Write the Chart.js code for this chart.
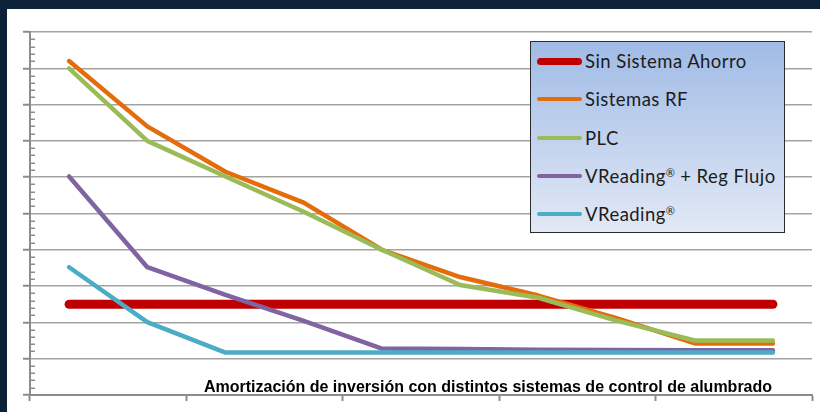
<!DOCTYPE html>
<html><head><meta charset="utf-8">
<script src="https://cdn.jsdelivr.net/npm/chart.js@4.4.0/dist/chart.umd.min.js"></script>
<style>
html,body{margin:0;padding:0;background:#0b2238;}
#wrap{position:relative;width:820px;height:412px;overflow:hidden;background:#0b2238;}
#panel{position:absolute;left:7px;top:9px;width:813px;height:403px;background:#fff;}
#c{position:absolute;left:0;top:0;}
#legend{position:absolute;left:530px;top:41px;width:253px;height:190px;border:1.5px solid #2b2b2b;background:linear-gradient(#a0bbe6,#e2e9f6);font-family:Lato,"Open Sans",sans-serif;font-size:18.5px;letter-spacing:0.45px;color:#1c1c1c;}
.item{position:absolute;left:0;height:26px;display:flex;align-items:center;white-space:nowrap;}
.sw{width:45px;margin-left:6px;margin-right:3px;border-radius:4px;flex:none;}
.reg{font-size:11px;position:relative;top:-6px;letter-spacing:0;}
#title{position:absolute;left:188px;top:378px;width:600px;text-align:center;font-family:"Liberation Sans",Arial,sans-serif;font-weight:bold;font-size:16px;color:#000;white-space:nowrap;}
</style>
</head><body>
<div id="wrap">
<div id="panel"></div>
<canvas id="c" width="820" height="412"></canvas>
<div id="legend"></div>
<div id="title">Amortización de inversión con distintos sistemas de control de alumbrado</div>
</div>
<script>
const categories = ['1','2','3','4','5','6','7','8','9','10'];
const seriesNames = ['Sin Sistema Ahorro','Sistemas RF','PLC','VReading® + Reg Flujo','VReading®'];
const seriesColors = ['#c00000','#e46c0a','#9bbb59','#8064a2','#4bacc6'];
const sinSistema = [2.5,2.5,2.5,2.5,2.5,2.5,2.5,2.5,2.5,2.5];
const sistemasRF = [9.2,7.4,6.15,5.3,4.0,3.25,2.74,2.12,1.42,1.42];
const plc = [9.0,7.0,6.02,5.05,4.0,3.03,2.68,2.05,1.5,1.5];
const vreadingReg = [6.02,3.52,2.76,2.04,1.28,1.27,1.25,1.24,1.23,1.23];
const vreading = [3.52,2.01,1.17,1.17,1.17,1.17,1.17,1.17,1.17,1.17];
const seriesData = [sinSistema, sistemasRF, plc, vreadingReg, vreading];
const lineWidths = [9,4.5,4.5,4.5,4.5];

// legend
const lg = document.getElementById('legend');
seriesNames.forEach((n,i)=>{
  const d = document.createElement('div');
  d.className='item';
  d.style.top = (6 + i*38.3) + 'px';
  const sw = document.createElement('span');
  sw.className='sw';
  sw.style.height = (i===0?7:4)+'px';
  sw.style.background = seriesColors[i];
  const t = document.createElement('span');
  n.split('®').forEach((part,k,arr)=>{
    t.appendChild(document.createTextNode(part));
    if(k<arr.length-1){ const r=document.createElement('span'); r.className='reg'; r.textContent='®'; t.appendChild(r); }
  });
  d.appendChild(sw); d.appendChild(t);
  lg.appendChild(d);
});

const minorTicks = {
  id:'minorTicks',
  afterDraw(chart){
    const y = chart.scales.y, ctx = chart.ctx, left = chart.chartArea.left;
    ctx.save();
    ctx.strokeStyle = '#8c8c8c';
    ctx.lineWidth = 1.5;
    for(let k=0;k<=50;k++){
      if(k%5===0) continue;
      const py = Math.round(y.getPixelForValue(k/5))+0.25;
      ctx.beginPath(); ctx.moveTo(left,py); ctx.lineTo(left+5,py); ctx.stroke();
    }
    ctx.restore();
  }
};

new Chart(document.getElementById('c'), {
  type:'line',
  data:{
    labels:categories,
    datasets: seriesData.map((d,i)=>({
      label:seriesNames[i], data:d, borderColor:seriesColors[i], backgroundColor:seriesColors[i],
      borderWidth:lineWidths[i], order:5-i, pointRadius:0, tension:0,
      borderCapStyle:'round', borderJoinStyle:'round', fill:false
    }))
  },
  options:{
    responsive:false, animation:false,
    layout:{padding:{left:7,right:8,top:32,bottom:10}},
    plugins:{legend:{display:false},tooltip:{enabled:false},title:{display:false}},
    scales:{
      x:{type:'category', offset:true,
        grid:{offset:true, drawOnChartArea:false, tickLength:6, tickWidth:2,
          tickColor:(c)=> (c.index===undefined || c.index%2===0) ? '#8c8c8c' : 'rgba(0,0,0,0)'},
        border:{color:'#8c8c8c', width:2},
        ticks:{display:false},
        afterFit:(s)=>{ s.height = 7; }
      },
      y:{min:0, max:10,
        ticks:{display:false, stepSize:1},
        grid:{color:'#a3a3a3', lineWidth:1.5, tickLength:7, tickColor:'#8c8c8c', tickWidth:2},
        border:{color:'#8c8c8c', width:2},
        afterFit:(s)=>{ s.width = 23; }
      }
    }
  },
  plugins:[minorTicks]
});
</script>
</body></html>
